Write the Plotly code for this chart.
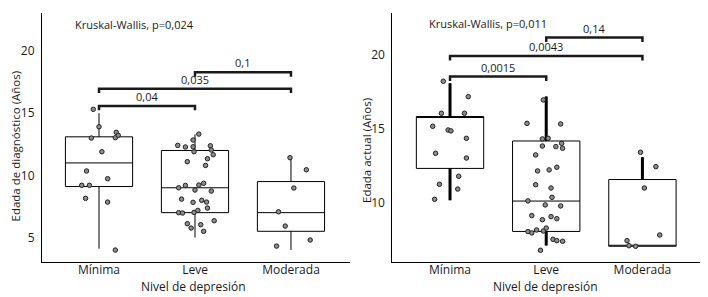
import plotly.graph_objects as go

# ---------------- data ----------------
categories = ["Mínima", "Leve", "Moderada"]

# Panel 1: Edad de diagnóstico
diag_q1 = [9.1, 7.0, 5.5]
diag_median = [11.0, 9.0, 7.0]
diag_q3 = [13.1, 12.0, 9.5]
diag_low = [4.1, 5.0, 4.0]
diag_high = [15.0, 13.3, 11.4]

diag_minima = [15.31, 13.91, 13.0, 13.03, 13.46, 13.22, 11.9, 10.35, 9.73, 9.2, 9.2, 8.15, 7.85, 3.99]
diag_minima_jit = [-0.06, 0.0, -0.08, 0.17, 0.18, 0.20, 0.03, -0.13, 0.09, -0.18, -0.10, -0.14, 0.09, 0.17]
diag_leve = [13.32, 12.84, 12.41, 12.28, 12.3, 12.38, 12.04, 11.9, 11.66, 11.34, 11.1, 10.8,
             9.0, 9.19, 9.22, 9.36, 8.82, 8.74, 8.09, 7.83, 7.99, 7.85, 7.37, 7.0, 6.97, 7.02,
             7.18, 6.11, 5.76, 6.03, 5.5, 6.35]
diag_leve_jit = [0.04, -0.02, -0.18, -0.10, -0.02, 0.16, 0.17, -0.01, 0.19, 0.13, -0.08, 0.11,
                 -0.17, -0.10, 0.04, 0.09, 0.0, 0.17, -0.14, -0.02, 0.07, 0.12, 0.13, -0.17,
                 -0.13, -0.01, 0.03, -0.08, -0.04, 0.06, 0.09, 0.20]
diag_mod = [11.42, 10.45, 8.98, 7.07, 5.92, 4.8, 4.31]
diag_mod_jit = [-0.01, 0.16, 0.03, -0.13, -0.06, 0.20, -0.15]

diag_pairs = [(0, 1), (0, 2), (1, 2)]
diag_pvals = ["0,04", "0,035", "0,1"]
diag_levels = [15.58, 16.97, 18.29]
diag_kw = "Kruskal-Wallis, p=0,024"

# Panel 2: Edad actual
act_q1 = [12.35, 8.1, 7.1]
act_median = [15.85, 10.15, 7.1]
act_q3 = [15.85, 14.2, 11.6]
act_low = [10.2, 7.15, 7.1]
act_high = [18.1, 17.2, 13.1]

act_minima = [18.23, 17.19, 16.07, 16.07, 15.19, 14.94, 14.88, 14.38, 13.37, 13.05, 11.82, 11.28, 10.96, 10.27]
act_minima_jit = [-0.07, 0.19, -0.09, 0.15, -0.18, -0.02, 0.01, 0.17, -0.15, 0.17, 0.09, -0.11, 0.08, -0.16]
act_leve = [16.97, 15.39, 15.35, 14.34, 14.38, 14.04, 13.86, 13.82, 13.71, 13.26, 12.18, 12.25,
            12.43, 11.25, 11.03, 10.4, 10.16, 9.89, 9.82, 9.17, 9.1, 8.89, 8.96, 8.09, 8.0, 8.2,
            8.13, 8.33, 7.57, 7.48, 7.44, 6.83]
act_leve_jit = [-0.03, -0.2, 0.15, -0.04, 0.02, 0.16, -0.04, 0.10, 0.17, -0.11, -0.09, 0.03,
                0.11, -0.11, 0.05, 0.06, -0.19, -0.01, 0.15, -0.15, 0.05, -0.04, 0.11, -0.19,
                -0.15, -0.10, -0.03, 0.0, 0.07, 0.11, 0.17, -0.06]
act_mod = [13.44, 12.47, 11.03, 7.86, 7.48, 7.14, 7.1]
act_mod_jit = [-0.02, 0.14, 0.02, 0.18, -0.16, -0.14, -0.07]

act_pairs = [(0, 1), (0, 2), (1, 2)]
act_pvals = ["0,0015", "0,0043", "0,14"]
act_levels = [18.54, 19.93, 21.17]
act_kw = "Kruskal-Wallis, p=0,011"

x_title = "Nivel de depresión"
y_title_1 = "Edada de diagnóstico (Años)"
y_title_2 = "Edada actual (Años)"

# ---------------- figure ----------------
FONT = "Open Sans"
OFF = 8                 # page body margin of the browser
W, H = 708 - OFF, 297 - OFF
TXT = "#1a1a1a"
fig = go.Figure()


def px_x(sx):
    return (sx - OFF) / W


def px_y(sy):
    return 1 - (sy - OFF) / H


def add_panel(xref, yref, q1, med, q3, lo, hi, groups, jits, pairs, pvals, levels, drop, thick_whisk):
    fig.add_trace(go.Box(
        x=[0, 1, 2], q1=q1, median=med, q3=q3, lowerfence=lo, upperfence=hi,
        width=0.7, whiskerwidth=0, boxpoints=False,
        line=dict(color="black", width=1), fillcolor="white",
        xaxis=xref, yaxis=yref, showlegend=False, hoverinfo="skip"))
    if thick_whisk:
        for i in range(3):
            if hi[i] > q3[i]:
                fig.add_trace(go.Scatter(x=[i, i], y=[q3[i], hi[i]], mode="lines",
                                         line=dict(color="black", width=3),
                                         xaxis=xref, yaxis=yref, showlegend=False, hoverinfo="skip"))
            if lo[i] < q1[i]:
                fig.add_trace(go.Scatter(x=[i, i], y=[lo[i], q1[i]], mode="lines",
                                         line=dict(color="black", width=3),
                                         xaxis=xref, yaxis=yref, showlegend=False, hoverinfo="skip"))
    for i, (vals, jit) in enumerate(zip(groups, jits)):
        fig.add_trace(go.Scatter(
            x=[i + j for j in jit], y=vals, mode="markers",
            marker=dict(size=4.5, color="#8c8c8c", line=dict(color="#222222", width=1)),
            xaxis=xref, yaxis=yref, showlegend=False, hoverinfo="skip"))
    for (a, b), p, lv in zip(pairs, pvals, levels):
        fig.add_trace(go.Scatter(
            x=[a, a, b, b], y=[lv - drop, lv, lv, lv - drop], mode="lines",
            line=dict(color=TXT, width=2.5),
            xaxis=xref, yaxis=yref, showlegend=False, hoverinfo="skip"))
        fig.add_annotation(x=(a + b) / 2, y=lv, xref=xref, yref=yref, text=p,
                           showarrow=False, xanchor="center", yanchor="bottom",
                           font=dict(family=FONT, size=11, color=TXT))


add_panel("x", "y", diag_q1, diag_median, diag_q3, diag_low, diag_high,
          [diag_minima, diag_leve, diag_mod], [diag_minima_jit, diag_leve_jit, diag_mod_jit],
          diag_pairs, diag_pvals, diag_levels, 0.35, False)
add_panel("x2", "y2", act_q1, act_median, act_q3, act_low, act_high,
          [act_minima, act_leve, act_mod], [act_minima_jit, act_leve_jit, act_mod_jit],
          act_pairs, act_pvals, act_levels, 0.3, True)

fig.add_annotation(x=-0.27, y=22.17, xref="x", yref="y", text=diag_kw, showarrow=False,
                   xanchor="left", yanchor="middle", font=dict(family=FONT, size=11, color=TXT))
fig.add_annotation(x=-0.236, y=22.09, xref="x2", yref="y2", text=act_kw, showarrow=False,
                   xanchor="left", yanchor="middle", font=dict(family=FONT, size=11, color=TXT))

# axis titles
for sx, sy, txt, ang in [(15, 146.5, y_title_1, -90), (366, 151, y_title_2, -90),
                         (193, 286, x_title, 0), (545, 286, x_title, 0)]:
    fig.add_annotation(x=px_x(sx), y=px_y(sy), xref="paper", yref="paper", text=txt,
                       textangle=ang, showarrow=False, xanchor="center", yanchor="middle",
                       font=dict(family=FONT, size=11.5 if ang else 12, color=TXT))

ydom = [px_y(262), px_y(13)]
common_x = dict(tickmode="array", tickvals=[0, 1, 2], ticktext=categories, showgrid=False,
                zeroline=False, showline=True, linecolor="black", linewidth=1, ticks="",
                automargin=False, ticklabelstandoff=-3,
                tickfont=dict(family=FONT, size=12, color=TXT), fixedrange=True)
common_y = dict(tickmode="array", tickvals=[5, 10, 15, 20], showgrid=False, zeroline=False,
                showline=True, linecolor="black", linewidth=1, ticks="",
                automargin=False, ticklabelstandoff=4,
                tickfont=dict(family=FONT, size=12, color=TXT), fixedrange=True)

fig.update_layout(
    width=W, height=H, margin=dict(l=0, r=0, t=0, b=0, autoexpand=False),
    paper_bgcolor="white", plot_bgcolor="white", showlegend=False,
    xaxis=dict(domain=[px_x(42), px_x(350)], range=[-0.594, 2.615], anchor="y", **common_x),
    yaxis=dict(domain=ydom, range=[3.03, 23.06], anchor="x", **common_y),
    xaxis2=dict(domain=[px_x(392.3), px_x(704)], range=[-0.6, 2.64], anchor="y2", **common_x),
    yaxis2=dict(domain=ydom, range=[6.04, 22.83], anchor="x2", **common_y),
    font=dict(family=FONT),
)

fig.write_html("out.html")
